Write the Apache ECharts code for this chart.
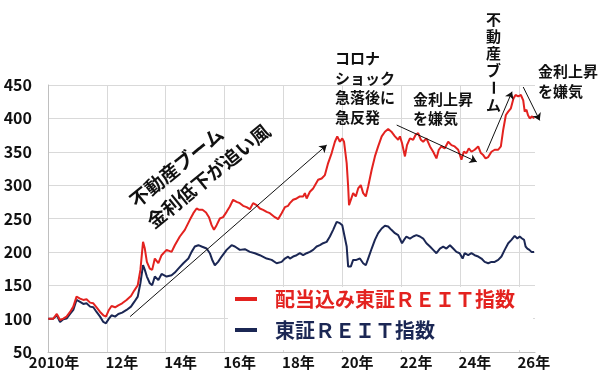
<!DOCTYPE html>
<html><head><meta charset="utf-8">
<script src="https://cdn.jsdelivr.net/npm/echarts@6/dist/echarts.min.js"></script>
<style>html,body{margin:0;padding:0;background:#fff}#c{width:600px;height:373px}</style>
</head><body><div id="c"></div>
<script>
const FONT = '"Noto Sans CJK JP", "Noto Sans", sans-serif';
const RED = '#e3221f';
const NAVY = '#1b2754';
const redName = '配当込み東証ＲＥＩＴ指数';
const navyName = '東証ＲＥＩＴ指数';

// Axis ticks
const yMin = 50, yMax = 450, yStep = 50;
const xMin = 2010, xMax = 2026.55, xStep = 2;

// 配当込み東証REIT指数 (decimal year, value)
const redYears = [
 2010.01,2010.18,2010.30,2010.41,2010.52,2010.63,2010.75,2010.86,2010.97,2011.09,
 2011.20,2011.31,2011.43,2011.54,2011.65,2011.77,2011.88,2011.97,2012.07,2012.16,
 2012.28,2012.39,2012.52,2012.67,2012.82,2012.93,2013.05,2013.14,2013.23,2013.29,
 2013.36,2013.46,2013.54,2013.63,2013.75,2013.86,
 2014.03,2014.20,2014.31,2014.48,2014.65,2014.82,2014.94,2015.05,2015.14,2015.25,
 2015.37,2015.47,2015.56,2015.64,2015.73,2015.84,2015.95,2016.07,2016.18,2016.29,
 2016.41,2016.52,2016.63,2016.75,2016.86,2016.97,2017.09,2017.20,2017.31,2017.43,
 2017.54,2017.71,2017.82,2017.94,2018.05,2018.16,
 2018.22,2018.33,2018.45,2018.56,2018.67,2018.73,2018.79,2018.90,2019.01,2019.07,
 2019.18,2019.30,2019.41,2019.52,2019.64,2019.75,2019.83,2019.92,2020.00,2020.06,
 2020.15,2020.20,2020.23,2020.29,2020.37,2020.46,2020.54,2020.63,2020.71,2020.80,
 2020.88,2021.00,2021.11,2021.22,2021.34,2021.45,2021.56,2021.67,2021.79,2021.90,
 2021.96,2022.03,2022.13,2022.20,2022.30,2022.41,2022.49,2022.58,2022.67,2022.75,
 2022.86,2022.98,2023.09,2023.20,2023.28,2023.37,2023.48,2023.60,2023.71,2023.82,
 2023.94,2024.05,2024.13,2024.22,2024.30,2024.39,2024.50,2024.62,2024.71,2024.79,
 2024.87,2024.96,2025.07,2025.18,2025.30,2025.39,2025.47,2025.56,2025.64,2025.73,
 2025.82,2025.89,2025.98,2026.07,2026.15,2026.20,2026.26,2026.31,2026.37,2026.45,
 2026.52
];
const redValues = [
 100,100,107,98,100,103,110,118,133,130,
 128,129,124,123,117,110,105,103,113,119,
 117,120,123,128,134,142,150,173,215,205,
 185,175,173,190,183,195,
 203,200,210,223,233,248,258,265,263,263,
 259,252,240,233,240,250,252,260,268,278,
 275,273,269,267,264,273,270,265,263,260,
 258,252,249,258,267,269,
 273,278,280,283,283,288,280,290,295,293,
 308,310,315,333,348,365,373,365,370,365,
 333,298,270,268,288,283,295,300,288,283,
 298,323,343,358,373,380,384,380,373,368,
 373,363,343,360,370,368,375,378,368,365,
 370,358,350,340,353,358,355,365,360,358,
 353,338,350,348,355,350,353,358,348,345,
 340,342,350,353,353,358,383,405,410,415,
 430,435,433,435,427,410,413,405,400,403,
 400
];

// 東証REIT指数 (decimal year, value)
const navyYears = [
 2010.01,2010.18,2010.30,2010.41,2010.52,2010.63,2010.75,2010.86,2010.97,2011.09,
 2011.20,2011.31,2011.43,2011.54,2011.65,2011.77,2011.88,2011.97,2012.07,2012.16,
 2012.28,2012.39,2012.52,2012.67,2012.82,2012.93,2013.05,2013.14,2013.23,2013.29,
 2013.36,2013.46,2013.54,2013.63,2013.75,2013.86,
 2014.03,2014.20,2014.31,2014.43,2014.60,2014.77,2014.88,2014.99,2015.11,2015.22,
 2015.39,2015.50,2015.59,2015.67,2015.78,2015.90,2016.07,2016.24,2016.35,2016.52,
 2016.69,2016.86,2017.03,2017.20,2017.43,2017.60,2017.77,2017.94,2018.05,2018.16,
 2018.22,2018.33,2018.45,2018.56,2018.67,2018.79,2018.90,2019.01,2019.13,2019.24,
 2019.35,2019.47,2019.58,2019.69,2019.81,2019.92,2020.00,2020.06,2020.15,2020.20,
 2020.29,2020.37,2020.48,2020.60,2020.71,2020.80,2020.88,2021.00,2021.11,2021.22,
 2021.34,2021.45,2021.56,2021.67,2021.79,2021.90,
 2021.96,2022.03,2022.10,2022.18,2022.30,2022.41,2022.52,2022.64,2022.75,2022.86,
 2022.98,2023.09,2023.20,2023.32,2023.43,2023.54,2023.66,2023.77,2023.88,2023.99,
 2024.09,2024.16,2024.28,2024.39,2024.50,2024.62,2024.73,2024.84,2024.96,2025.07,
 2025.18,2025.30,2025.41,2025.52,2025.64,2025.75,2025.86,2025.95,2026.03,2026.11,
 2026.18,2026.23,2026.29,2026.36,2026.43,2026.52
];
const navyValues = [
 100,100,105,95,99,100,107,113,128,125,
 122,123,118,117,110,103,95,93,100,105,
 103,107,109,113,118,125,133,153,180,173,
 163,153,150,163,158,167,
 163,165,169,175,183,190,200,208,210,208,
 205,198,187,180,185,193,203,210,208,203,
 204,200,198,195,190,188,183,185,190,193,
 190,193,195,198,195,198,200,203,208,210,
 213,215,223,233,245,243,240,238,208,178,
 178,188,188,190,183,180,190,205,218,228,
 235,239,238,233,228,225,
 223,213,218,223,220,223,225,223,220,213,
 208,203,198,205,208,205,210,205,200,198,
 190,198,195,198,195,193,190,185,183,185,
 185,188,193,203,213,218,224,220,223,220,
 218,208,205,203,200,200
];

// Annotation arrows in data coordinates [year, value]
const arrowStarts = [[2012.79,103],[2021.85,390],[2024.90,350],[2026.15,447]];
const arrowEnds   = [[2019.47,360],[2024.57,335],[2025.77,440],[2026.71,397]];

const redData = redYears.map((t,i)=>[t, redValues[i]]);
const navyData = navyYears.map((t,i)=>[t, navyValues[i]]);

const chart = echarts.init(document.getElementById('c'), null, {renderer:'canvas'});
const txt = (o) => Object.assign({fill:'#111', fontFamily:FONT, fontWeight:'bold'}, o);
const vChars = ['不','動','産','ブ','ー','ム'];
const vGraphics = vChars.map((ch,i)=>({
  type:'text', x:493.5, y:19 + i*17.2, rotation: ch==='ー' ? -Math.PI/2 : 0, z:100,
  style: txt({text:ch, fontSize:15, align:'center', verticalAlign:'middle'})
}));

// compute arrow endpoints through the chart's own scales (an endpoint past the
// right edge is extrapolated by the axis, so it is not filtered away)
function buildArrows(){
  return arrowStarts.map((s,i)=>{
    const a = chart.convertToPixel({gridIndex:0}, s);
    const b = chart.convertToPixel({gridIndex:0}, arrowEnds[i]);
    return [{x:a[0], y:a[1]}, {x:b[0], y:b[1]}];
  });
}

const option = {
  animation:false,
  backgroundColor:'#fff',
  grid:{left:48, right:65, top:85, bottom:21, containLabel:false},
  xAxis:{
    type:'value', min:xMin, max:xMax, interval:xStep,
    axisLine:{show:true, onZero:false, lineStyle:{color:'#bfbfbf', width:1}},
    axisTick:{show:false},
    splitLine:{show:true, showMaxLine:false, lineStyle:{color:'#d9d9d9', width:1}},
    axisLabel:{
      margin:3, showMaxLabel:false, color:'#111', fontFamily:FONT, fontSize:15, fontWeight:'bold',
      formatter:(v)=>{
        if (Math.abs(v - Math.round(v)) > 1e-6) return '';
        if (v === 2010) return '{f|2010年}';
        return '{o|' + String(v).slice(2) + '年}';
      },
      rich:{
        f:{padding:[0,0,0,12], fontFamily:FONT, fontSize:15, fontWeight:'bold', color:'#111'},
        o:{padding:[0,0,0,30], fontFamily:FONT, fontSize:15, fontWeight:'bold', color:'#111'}
      }
    }
  },
  yAxis:{
    type:'value', min:yMin, max:yMax, interval:yStep,
    axisLine:{show:true, lineStyle:{color:'#bfbfbf', width:1}},
    axisTick:{show:false},
    splitLine:{show:true, lineStyle:{color:'#d9d9d9', width:1}},
    axisLabel:{margin:16, color:'#111', fontFamily:FONT, fontSize:16, fontWeight:'bold'}
  },
  legend:{
    orient:'vertical', left:228, top:287, itemWidth:22, itemHeight:4, itemGap:11, icon:'rect',
    backgroundColor:'#fff', padding:[2,18,10,7], selectedMode:false,
    textStyle:{fontSize:20, fontWeight:'bold', fontFamily:FONT, lineHeight:20, padding:[0,0,0,13]},
    data:[{name:redName, textStyle:{color:RED}}, {name:navyName, textStyle:{color:NAVY}}]
  },
  series:[
    {name:navyName, type:'line', data:navyData, showSymbol:false, symbol:'none',
     color:NAVY, lineStyle:{color:NAVY, width:2}, itemStyle:{color:NAVY}, z:3},
    {name:redName, type:'line', data:redData, showSymbol:false, symbol:'none',
     color:RED, lineStyle:{color:RED, width:2}, itemStyle:{color:RED}, z:4}
  ],
  graphic:[
    {type:'text', x:176.5, y:167, rotation:39*Math.PI/180, z:100,
     style:txt({text:'不動産ブーム', fontSize:19, align:'center', verticalAlign:'middle'})},
    {type:'text', x:208.5, y:176, rotation:39*Math.PI/180, z:100,
     style:txt({text:'金利低下が追い風', fontSize:19, align:'center', verticalAlign:'middle'})},
    {type:'text', x:335, y:49, z:100,
     style:txt({text:'コロナ\nショック\n急落後に\n急反発', fontSize:15, lineHeight:19.5, align:'left', verticalAlign:'top'})},
    {type:'text', x:413, y:89.5, z:100,
     style:txt({text:'金利上昇\nを嫌気', fontSize:15, lineHeight:19, align:'left', verticalAlign:'top'})},
    {type:'text', x:538, y:61, z:100,
     style:txt({text:'金利上昇\nを嫌気', fontSize:15, lineHeight:20, align:'left', verticalAlign:'top'})}
  ].concat(vGraphics)
};
chart.setOption(option);
chart.setOption({
  series:[{}, {
    markLine:{silent:true, animation:false, symbol:['none','arrow'], symbolSize:7,
      label:{show:false}, lineStyle:{color:'#111', width:1, type:'solid'},
      emphasis:{disabled:true}, data:buildArrows()}
  }]
});
</script></body></html>
